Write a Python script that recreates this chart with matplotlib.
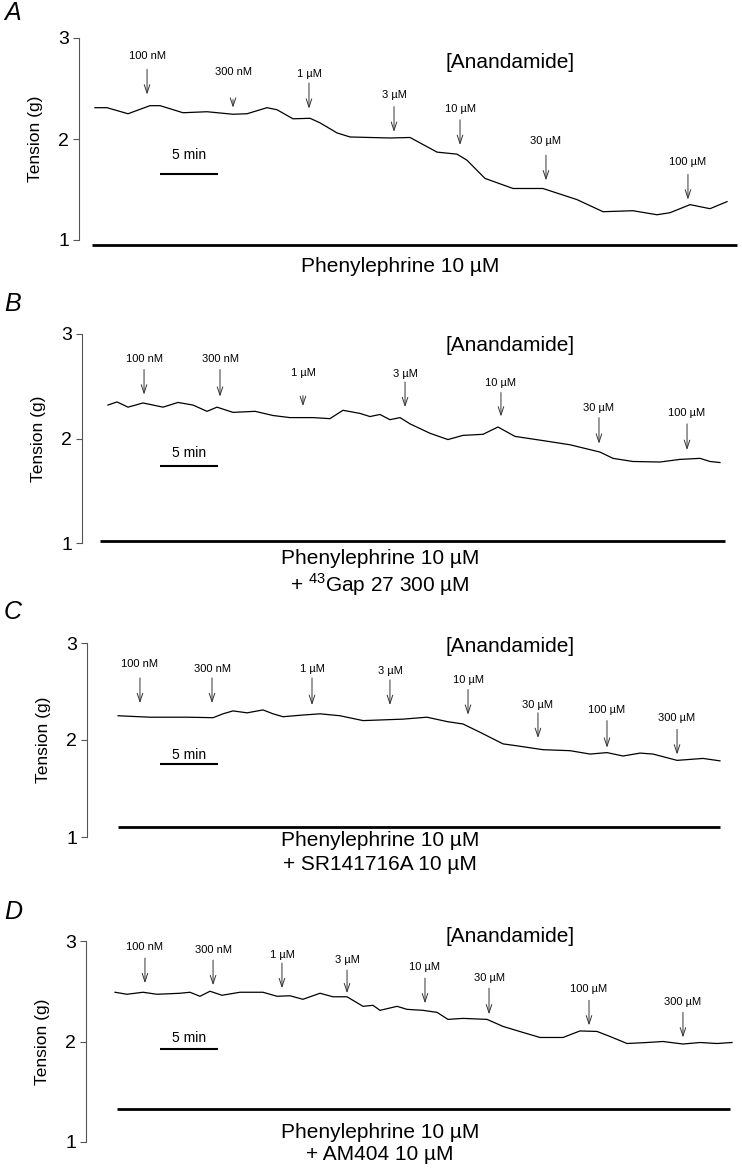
import matplotlib
matplotlib.use('Agg')
import matplotlib.pyplot as plt

plt.rcParams['font.family'] = ['Liberation Sans', 'DejaVu Sans']
plt.rcParams['mathtext.fontset'] = 'custom'
plt.rcParams['mathtext.rm'] = 'Liberation Sans'

# ---- data: time (min) and tension (g) ----
a_t = [1.29, 2.33, 4.14, 6.03, 6.90, 8.88, 10.95, 13.19, 14.40, 16.12, 16.98, 18.36, 19.83, 20.69,
       22.16, 23.28, 25.00, 26.72, 28.45, 30.78, 32.50, 33.36, 34.91, 37.33, 39.91, 42.84, 45.09,
       47.67, 49.74, 50.86, 52.59, 54.31, 55.78]
a_g = [2.31, 2.31, 2.25, 2.33, 2.33, 2.26, 2.27, 2.245, 2.25, 2.31, 2.29, 2.20, 2.205, 2.16,
       2.06, 2.02, 2.015, 2.01, 2.015, 1.87, 1.85, 1.79, 1.61, 1.51, 1.51, 1.40, 1.28,
       1.29, 1.25, 1.27, 1.35, 1.31, 1.38]

b_t = [2.41, 3.19, 4.14, 5.43, 7.16, 8.45, 9.74, 10.95, 11.81, 13.19, 15.09, 16.64, 18.10, 20.09,
       21.55, 22.67, 24.14, 25.00, 25.86, 26.72, 27.59, 28.45, 30.17, 31.72, 33.02, 34.74, 36.03,
       37.50, 39.91, 42.24, 44.83, 45.95, 47.67, 50.00, 51.72, 53.45, 54.31, 55.17]
b_g = [2.32, 2.35, 2.30, 2.34, 2.30, 2.345, 2.32, 2.26, 2.30, 2.25, 2.26, 2.22, 2.20, 2.20,
       2.19, 2.27, 2.24, 2.21, 2.23, 2.18, 2.20, 2.14, 2.05, 1.99, 2.03, 2.04, 2.11,
       2.02, 1.98, 1.94, 1.87, 1.81, 1.78, 1.775, 1.80, 1.81, 1.78, 1.77]

c_t = [3.28, 6.03, 9.22, 11.47, 12.33, 13.19, 14.40, 15.78, 16.64, 17.50, 18.97, 20.69, 22.41,
       24.40, 27.84, 29.91, 31.64, 33.02, 34.48, 36.47, 37.67, 39.91, 42.24, 43.97, 45.43, 46.81,
       48.28, 49.40, 51.47, 53.71, 55.17]
c_g = [2.25, 2.235, 2.235, 2.23, 2.27, 2.30, 2.28, 2.31, 2.27, 2.24, 2.255, 2.27, 2.25,
       2.20, 2.215, 2.235, 2.19, 2.165, 2.08, 1.96, 1.94, 1.90, 1.89, 1.855, 1.87, 1.835,
       1.865, 1.855, 1.79, 1.81, 1.785]

d_t = [3.02, 4.05, 5.43, 6.64, 8.62, 9.48, 10.34, 11.21, 12.24, 13.79, 15.78, 16.98, 18.10, 19.22,
       20.69, 21.81, 23.02, 24.40, 25.26, 25.86, 27.33, 28.19, 29.57, 30.78, 31.72, 33.02, 35.09,
       36.47, 38.19, 39.66, 41.64, 43.10, 44.57, 45.69, 47.16, 48.88, 50.26, 51.98, 53.45, 54.91,
       56.21]
d_g = [2.49, 2.47, 2.49, 2.47, 2.48, 2.49, 2.45, 2.50, 2.46, 2.49, 2.49, 2.45, 2.455, 2.42,
       2.48, 2.445, 2.445, 2.35, 2.36, 2.31, 2.35, 2.32, 2.31, 2.29, 2.22, 2.23, 2.22,
       2.15, 2.09, 2.04, 2.04, 2.105, 2.10, 2.05, 1.98, 1.99, 2.00, 1.975, 1.99, 1.98,
       1.99]

# anandamide additions: time, label, label height, arrow tail, arrow tip
conc7 = ['100 nM', '300 nM', '1 µM', '3 µM', '10 µM', '30 µM', '100 µM']
conc8 = conc7 + ['300 µM']

a_add = [5.78, 13.19, 19.74, 27.07, 32.76, 40.17, 52.41]
a_lab = [2.82, 2.66, 2.64, 2.44, 2.30, 1.98, 1.77]
a_tail = [2.69, 2.39, 2.555, 2.32, 2.19, 1.84, 1.65]
a_tip = [2.44, 2.31, 2.30, 2.07, 1.94, 1.59, 1.40]

b_add = [5.52, 12.07, 19.22, 28.02, 36.29, 44.74, 52.33]
b_lab = [2.76, 2.76, 2.63, 2.62, 2.53, 2.29, 2.24]
b_tail = [2.66, 2.66, 2.41, 2.54, 2.44, 2.20, 2.14]
b_tip = [2.42, 2.40, 2.31, 2.30, 2.21, 1.95, 1.89]

c_add = [5.17, 11.38, 20.00, 26.72, 33.45, 39.48, 45.43, 51.47]
c_lab = [2.78, 2.73, 2.73, 2.71, 2.62, 2.36, 2.31, 2.23]
c_tail = [2.64, 2.64, 2.64, 2.62, 2.52, 2.28, 2.20, 2.11]
c_tip = [2.38, 2.38, 2.36, 2.36, 2.26, 2.02, 1.92, 1.85]

d_add = [5.60, 11.47, 17.41, 23.02, 29.74, 35.26, 43.88, 51.98]
d_lab = [2.94, 2.91, 2.86, 2.81, 2.74, 2.63, 2.52, 2.39]
d_tail = [2.83, 2.81, 2.78, 2.71, 2.63, 2.53, 2.41, 2.29]
d_tip = [2.58, 2.56, 2.53, 2.48, 2.38, 2.27, 2.16, 2.04]

# phenylephrine bar (start, end, level) and 5 min scale bar (start, level)
pe_bars = [(1.03, 56.64, 0.95), (1.72, 55.6, 1.02), (3.28, 55.17, 1.10), (3.19, 56.03, 1.33)]
scale_bars = [(6.9, 1.65), (6.9, 1.74), (6.9, 1.75), (6.9, 1.93)]

drug_text = [['Phenylephrine 10 µM'],
             ['Phenylephrine 10 µM', r'+ $^{43}$Gap 27 300 µM'],
             ['Phenylephrine 10 µM', '+ SR141716A 10 µM'],
             ['Phenylephrine 10 µM', '+ AM404 10 µM']]

panels = [
    ('A', a_t, a_g, conc7, a_add, a_lab, a_tail, a_tip),
    ('B', b_t, b_g, conc7, b_add, b_lab, b_tail, b_tip),
    ('C', c_t, c_g, conc8, c_add, c_lab, c_tail, c_tip),
    ('D', d_t, d_g, conc8, d_add, d_lab, d_tail, d_tip),
]

# ---- layout in pixels (spine x, y of 3 g, y of 1 g, letter y, anandamide y, 5 min y, drug text y) ----
W, H = 742, 1170
layout = [
    (79, 38, 240, 13, 63, 155, [267]),
    (82, 334, 543, 304, 345, 453, [558, 585]),
    (87, 643, 837, 612, 646, 755, [840, 864]),
    (86, 941, 1142, 912, 936, 1038, [1132, 1154]),
]
px_per_min = 11.6
right_px = 740

fig = plt.figure(figsize=(W / 100, H / 100), dpi=100)


def fx(px):
    return px / W


def fy(py):
    return 1 - py / H


for (letter, t, g, conc, add, lab, tail, tip), lay, pe, sb, dtxt in zip(panels, layout, pe_bars, scale_bars, drug_text):
    spine, y3, y1, ly, any_, smin_y, dys = lay
    ax = fig.add_axes([fx(spine), fy(y1), (right_px - spine) / W, (y1 - y3) / H])
    ax.set_xlim((spine - 80) / px_per_min, (right_px - 80) / px_per_min)
    ax.set_ylim(1, 3)
    for s in ['top', 'right', 'bottom']:
        ax.spines[s].set_visible(False)
    ax.spines['left'].set_linewidth(0.8)
    ax.spines['left'].set_color('#555555')
    ax.set_xticks([])
    ax.set_yticks([1, 2, 3])
    ax.tick_params(axis='y', direction='out', length=4, width=0.8, color='#555555',
                   labelsize=14, pad=3)
    ax.set_ylabel('Tension (g)', fontsize=12.5)
    ax.yaxis.set_label_coords(-36 / (right_px - spine), 0.5)

    # trace
    ax.plot(t, g, color='black', lw=0.9, solid_joinstyle='round')

    # phenylephrine bar
    ax.plot([pe[0], pe[1]], [pe[2], pe[2]], color='black', lw=2.0, solid_capstyle='butt', clip_on=False)

    # 5 min scale bar
    ax.plot([sb[0], sb[0] + 5], [sb[1], sb[1]], color='black', lw=1.5, solid_capstyle='butt')
    fig.text(fx(189), fy(smin_y), '5 min', ha='center', va='center', fontsize=10)

    # additions
    for ti, name, yl, ya, yb in zip(add, conc, lab, tail, tip):
        ax.annotate('', xy=(ti, yb), xytext=(ti, ya),
                    arrowprops=dict(arrowstyle='->,head_length=0.6,head_width=0.2',
                                    lw=0.7, color='#333333', shrinkA=0, shrinkB=0))
        ax.text(ti, yl, name, ha='center', va='center', fontsize=8)

    fig.text(fx(510), fy(any_), '[Anandamide]', ha='center', va='center', fontsize=15)
    fig.text(fx(13), fy(ly), letter, ha='center', va='center', fontsize=18, style='italic')
    for s, dy in zip(dtxt, dys):
        xc = 400 if letter == 'A' else 380
        fig.text(fx(xc), fy(dy), s, ha='center', va='center', fontsize=15)

fig.savefig('out.png', dpi=100)
